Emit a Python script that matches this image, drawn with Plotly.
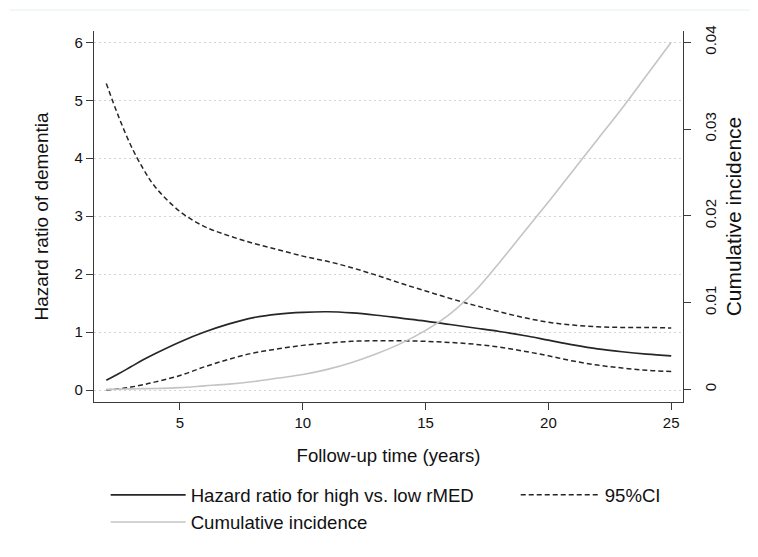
import plotly.graph_objects as go

# Follow-up time (years)
years = [2, 2.5, 3, 3.5, 4, 5, 6, 7, 8, 9, 10, 11, 12, 13, 14, 15, 16, 17, 18, 19, 20, 21, 22, 23, 24, 25]

# Hazard ratio for high vs. low rMED
hr = [0.17, 0.28, 0.40, 0.52, 0.63, 0.83, 1.00, 1.14, 1.25, 1.31, 1.34, 1.35, 1.33, 1.29, 1.24,
      1.19, 1.13, 1.07, 1.01, 0.94, 0.86, 0.78, 0.71, 0.66, 0.62, 0.59]

# 95% CI bounds
ci_low = [0.00, 0.02, 0.05, 0.09, 0.14, 0.25, 0.40, 0.53, 0.64, 0.71, 0.77, 0.81, 0.84, 0.85, 0.85,
          0.84, 0.82, 0.79, 0.74, 0.67, 0.59, 0.50, 0.43, 0.38, 0.34, 0.32]
ci_high = [5.29, 4.72, 4.22, 3.82, 3.50, 3.08, 2.82, 2.66, 2.53, 2.42, 2.31, 2.22, 2.11, 1.98, 1.84,
           1.71, 1.58, 1.46, 1.35, 1.25, 1.17, 1.12, 1.09, 1.08, 1.08, 1.07]

# Cumulative incidence (right axis)
cum_inc = [0.0, 0.00002, 0.00005, 0.00008, 0.0001, 0.0002, 0.0004, 0.0006, 0.0009, 0.0013, 0.0017,
           0.0023, 0.0031, 0.0041, 0.0053, 0.0068, 0.0087, 0.0113, 0.0146, 0.0181, 0.0216, 0.0252,
           0.0288, 0.0324, 0.0362, 0.0400]

x_ticks = [5, 10, 15, 20, 25]
y_ticks = [0, 1, 2, 3, 4, 5, 6]
y2_ticks = [0, 0.01, 0.02, 0.03, 0.04]
y2_labels = ["0", "0.01", "0.02", "0.03", "0.04"]

FONT = "Liberation Sans, Arial, sans-serif"
AX = "#3a3a3a"

fig = go.Figure()

fig.add_trace(go.Scatter(x=years, y=cum_inc, yaxis="y2", mode="lines", line_shape="spline",
                         line=dict(color="#c4c4c4", width=1.6), name="Cumulative incidence",
                         legend="legend", legendrank=2))
fig.add_trace(go.Scatter(x=years, y=hr, mode="lines", line_shape="spline",
                         line=dict(color="#262626", width=1.7), name="Hazard ratio for high vs. low rMED",
                         legend="legend", legendrank=1))
fig.add_trace(go.Scatter(x=years, y=ci_low, mode="lines", line_shape="spline",
                         line=dict(color="#262626", width=1.5, dash="5px,3px"), name="95%CI",
                         legend="legend2"))
fig.add_trace(go.Scatter(x=years, y=ci_high, mode="lines", line_shape="spline",
                         line=dict(color="#262626", width=1.5, dash="5px,3px"), name="95%CI",
                         legend="legend2", showlegend=False))

fig.update_layout(
    width=758, height=557,
    margin=dict(l=86, r=83, t=23, b=163, autoexpand=False),
    paper_bgcolor="white", plot_bgcolor="white",
    font=dict(family=FONT, color="#111111", size=15),
    xaxis=dict(range=[1.5, 25.48], tickvals=x_ticks, showline=True, linecolor=AX, linewidth=1.2,
               ticks="outside", ticklen=7, tickcolor=AX, showgrid=False, zeroline=False,
               tickfont=dict(size=15), automargin=False,
               title=dict(text="Follow-up time (years)", font=dict(size=18.6), standoff=18)),
    yaxis=dict(range=[-0.207, 6.195], tickvals=y_ticks, showline=True, linecolor=AX, linewidth=1.2,
               ticks="outside", ticklen=7, tickcolor=AX, showgrid=True, gridcolor="#d4d4d4",
               griddash="2px,3px", gridwidth=1, zeroline=False, tickfont=dict(size=15),
               automargin=False,
               title=dict(text="Hazard ratio of dementia", font=dict(size=19), standoff=20)),
    yaxis2=dict(range=[-0.00146, 0.0413], overlaying="y", side="right", tickvals=y2_ticks,
                ticktext=y2_labels, tickangle=-90, showline=True, linecolor=AX, linewidth=1.2,
                ticks="outside", ticklen=7, tickcolor=AX, showgrid=False, zeroline=False,
                tickfont=dict(size=15), ticklabelstandoff=7, automargin=False,
                title=dict(text="Cumulative incidence", font=dict(size=21), standoff=8)),
    legend=dict(orientation="v", x=0.0198, xanchor="left", y=-0.2, yanchor="top",
                font=dict(size=18.6), itemwidth=75, bgcolor="rgba(0,0,0,0)", traceorder="normal"),
    legend2=dict(orientation="v", x=0.716, xanchor="left", y=-0.2, yanchor="top",
                 font=dict(size=18.6), itemwidth=79, bgcolor="rgba(0,0,0,0)"),
    showlegend=True,
    shapes=[dict(type="line", xref="paper", yref="paper", x0=-0.143, x1=1.14, y0=1.0566, y1=1.0566,
                 line=dict(color="#e3f0f0", width=1))],
)

fig.write_html("out.html")
